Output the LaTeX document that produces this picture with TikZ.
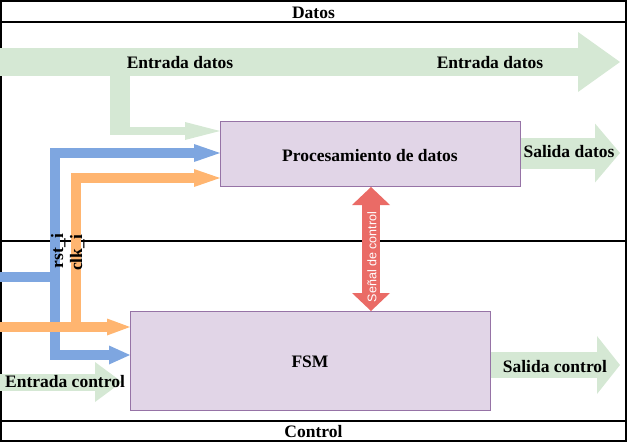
\documentclass[tikz,border=0pt]{standalone}
\usepackage{fontspec}
\setmainfont{Liberation Serif}
\newfontfamily\helvfont{Liberation Sans}
\usetikzlibrary{arrows.meta,calc}
\definecolor{grn}{HTML}{D5E8D4}
\definecolor{blu}{HTML}{7EA6E0}
\definecolor{org}{HTML}{FFB570}
\definecolor{rd}{HTML}{EA6B66}
\definecolor{pfill}{HTML}{E1D5E7}
\definecolor{pdraw}{HTML}{9673A6}
\newcommand\labfont{\bfseries\fontsize{17.5}{20}\selectfont}
\begin{document}
\begin{tikzpicture}[x=1pt,y=-1pt,
  lbl/.style={font=\labfont, inner sep=0pt, anchor=base},
  box/.style={draw=pdraw, fill=pfill, line width=1pt, anchor=north west, inner sep=0pt},
  frameline/.style={line width=1.2pt, black},
  gband/.style={draw=grn, line cap=butt, line join=miter},
  bband/.style={draw=blu, line width=10pt, line cap=butt, line join=miter},
  oband/.style={draw=org, line width=10pt, line cap=butt, line join=miter},
  rband/.style={draw=rd, line width=18pt, line cap=butt}]
\useasboundingbox (0,0) rectangle (627,442);
% frame
\draw[frameline] (1,1) rectangle (626,441);
\draw[frameline] (1,22) -- (626,22);
\draw[frameline] (1,241) -- (626,241);
\draw[frameline] (1,421) -- (626,421);
% boxes
\node[box, minimum width=300pt, minimum height=65pt] (proc) at (220,121) {};
\node[box, minimum width=360pt, minimum height=99pt] (fsm) at (130,311) {};
% helper coordinates
\coordinate (din) at (0,62);
\coordinate (dout) at (620,62);
\coordinate (y131) at (0,131);
\coordinate (y153) at (0,153);
\coordinate (y178) at (0,178);
\coordinate (y327) at (0,327);
\coordinate (y355) at (0,355);
\coordinate (y365) at (0,365);
\coordinate (x371) at (371,0);
\coordinate (bin) at (0,277);
\coordinate (bjoin) at (55,277);
\coordinate (oin) at (0,327);
\coordinate (ojoin) at (75.5,327);
\coordinate (cin) at (0,382);
\coordinate (cend) at (122,382);
\coordinate (sdend) at (620,153);
\coordinate (scend) at (620,365);
% green data input
\draw[gband, line width=28pt, -{Triangle[length=42pt,width=60pt,line width=0pt]}] (din) -- (dout);
\draw[gband, line width=20pt] (120,70) -- (120,135);
\draw[gband, line width=8pt, -{Triangle[length=35pt,width=18pt,line width=0pt]}] (110,131) -- (proc.west |- y131);
% blue rst
\draw[bband] (bin) -- (bjoin);
\draw[bband, -{Triangle[length=26pt,width=18pt,line width=0pt]}] (bjoin) |- (proc.west |- y153);
\draw[bband, -{Triangle[length=21pt,width=19pt,line width=0pt]}] (bjoin) |- (fsm.west |- y355);
% orange clk
\draw[oband, -{Triangle[length=26pt,width=18pt,line width=0pt]}] (ojoin) |- (proc.west |- y178);
\draw[oband, -{Triangle[length=23pt,width=17pt,line width=0pt]}] (oin) -- (fsm.west |- y327);
% red control signal
\draw[rband, {Triangle[length=18pt,width=38pt,line width=0pt]}-{Triangle[length=18pt,width=38pt,line width=0pt]}] (proc.south -| x371) -- (fsm.north -| x371);
% green outputs
\draw[gband, line width=31pt, -{Triangle[length=25pt,width=59pt,line width=0pt]}] (proc.east |- y153) -- (sdend);
\draw[gband, line width=26pt, -{Triangle[length=23pt,width=58pt,line width=0pt]}] (fsm.east |- y365) -- (scend);
\draw[gband, line width=17pt, -{Triangle[length=27pt,width=40pt,line width=0pt]}] (cin) -- (cend);
% texts
\node[lbl] (tdatos) at (313.5,18) {Datos};
\node[lbl] (tcontrol) at (313.5,437) {Control};
\node[lbl] (ed1) at (180,68) {Entrada datos};
\node[lbl] (ed2) at (490,68) {Entrada datos};
\node[lbl] (tproc) at (370,161) {Procesamiento de datos};
\node[lbl] (tfsm) at (310,367) {FSM};
\node[lbl] (tsd) at (569,157) {Salida datos};
\node[lbl] (tsc) at (555,372) {Salida control};
\node[lbl] (tec) at (65,387) {Entrada control};
\node[lbl, rotate=90] (trst) at (63,251) {rst\_i};
\node[lbl, rotate=90] (tclk) at (82,253) {clk\_i};
\node[rotate=90, text=white, font=\helvfont\fontsize{12.5}{14}\selectfont, inner sep=0pt] (tsen) at (372,257) {Señal de control};
\end{tikzpicture}
\end{document}
